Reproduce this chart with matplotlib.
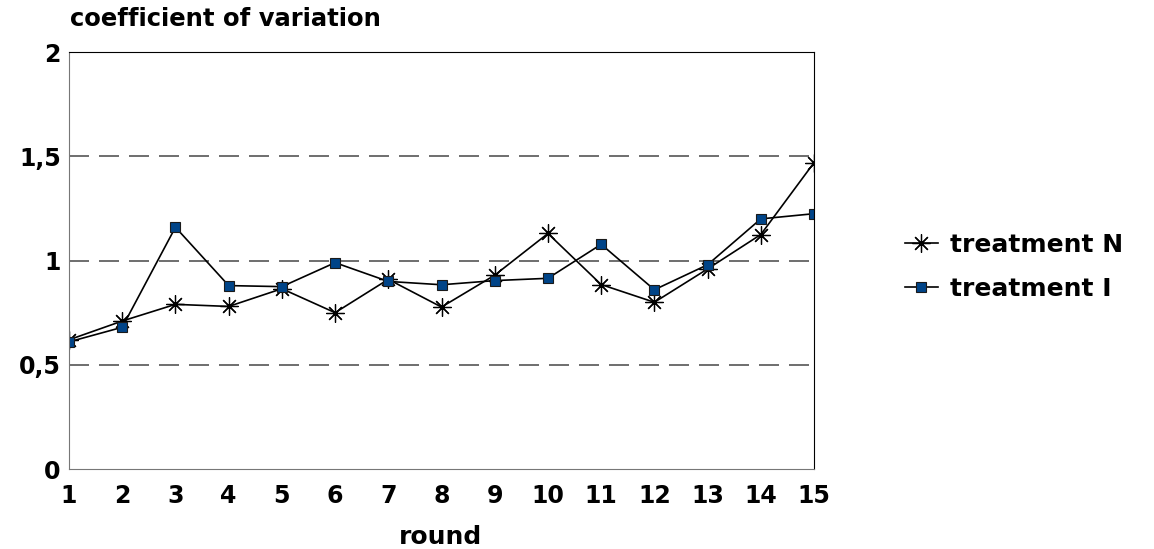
import matplotlib
matplotlib.use("Agg")
import matplotlib.pyplot as plt

rounds = list(range(1, 16))
treatment_n = [0.62, 0.71, 0.79, 0.78, 0.865, 0.75, 0.91, 0.777, 0.93, 1.13, 0.885, 0.80, 0.96, 1.125, 1.47]
treatment_i = [0.61, 0.68, 1.16, 0.88, 0.875, 0.99, 0.90, 0.884, 0.904, 0.915, 1.078, 0.86, 0.98, 1.20, 1.225]
y_ticks = [0, 0.5, 1, 1.5, 2]
y_tick_labels = ["0", "0,5", "1", "1,5", "2"]

plt.rcParams["font.family"] = ["DejaVu Sans"]
plt.rcParams["font.weight"] = "bold"

fig = plt.figure(figsize=(11.54, 5.49), dpi=100)
ax = fig.add_axes([0.0598, 0.1457, 0.6456, 0.7593])

ax.plot(rounds, treatment_n, color="black", lw=1.2, marker=(8, 2, 0),
        ms=13, mew=0.9, mec="black", label="treatment N")
ax.plot(rounds, treatment_i, color="black", lw=1.2, marker="s",
        ms=7, mfc="#004488", mec="#1a1a1a", mew=0.8, label="treatment I")

ax.set_xlim(1, 15)
ax.set_ylim(0, 2)
ax.set_xticks(rounds)
ax.set_xticklabels([str(r) for r in rounds])
ax.set_yticks(y_ticks)
ax.set_yticklabels(y_tick_labels)
ax.tick_params(length=0, labelsize=17, pad=11)
ax.tick_params(axis="y", pad=6)

for v in [0.5, 1, 1.5]:
    ax.axhline(v, color="#555555", lw=1.2, ls=(0, (12, 6)), zorder=0)

for side in ["left", "bottom"]:
    ax.spines[side].set_color("#777777")
for side in ["top", "right"]:
    ax.spines[side].set_color("black")

fig.text(0.061, 0.965, "coefficient of variation", fontsize=17.5, fontweight="bold",
         va="center", ha="left")
fig.text(0.382, 0.022, "round", fontsize=18, fontweight="bold", va="center", ha="center")

ax.legend(loc="center left", bbox_to_anchor=(1.092, 0.485), frameon=False, fontsize=18,
          handlelength=1.3, labelspacing=0.82, handletextpad=0.5)

fig.savefig("out.png", dpi=100)
